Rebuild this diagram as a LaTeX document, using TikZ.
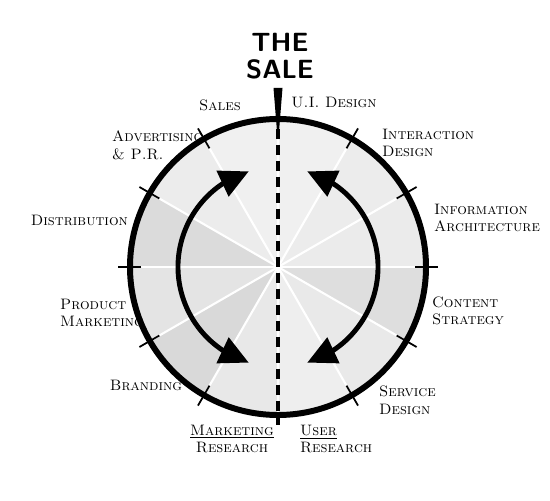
\documentclass[tikz,border=0pt]{standalone}
\usepackage{amsmath}
\usetikzlibrary{arrows.meta,bending}

\begin{document}
\begin{tikzpicture}[x=0.02cm, y=0.02cm,
    lbl/.style={font=\fontsize{8.6}{10}\selectfont\scshape, inner sep=1pt},
    rimtick/.style={line width=1pt},
    twoway/.style={line width=2.8pt,
        {Triangle[length=0.58cm,width=0.55cm]}-{Triangle[length=0.58cm,width=0.55cm]}}]%
    \useasboundingbox (-278,-233) rectangle (272,267);
    \coordinate (c) at (0,0);
    \foreach \a/\g in {90/12,120/15,150/28,180/21,210/30,240/18,
                       270/13,300/17,330/26,0/16,30/15,60/12}
        \fill[gray!\g] (c) -- (\a:146) arc[start angle=\a, delta angle=30, radius=146] -- cycle;
    \foreach \a in {0,30,...,330}
        \draw[white, line width=1.2pt] (c) -- (\a:146);
    \draw[line width=3.4pt] (c) circle[radius=148];
    \foreach \a in {0,30,60,120,150,180,210,240,300,330}
        \draw[rimtick] (\a:137) -- (\a:160);
    \node (sale) [font=\sffamily\bfseries\fontsize{15}{15.5}\selectfont, align=center] at (2,211) {THE\\SALE};
    \fill (-4.5,179) -- (4.5,179) -- (1.2,138) -- (-1.2,138) -- cycle;
    \draw[line width=1.8pt, dash pattern=on 0.2cm off 0.12cm] (0,138) -- (0,-158);
    \draw[twoway] (107:100) arc[start angle=107, end angle=253, radius=100];
    \draw[twoway] (73:100) arc[start angle=73, end angle=-73, radius=100];
    \node (sales) [lbl] at (-58,162) {Sales};
    \node (ui) [lbl] at (56,164) {U.I. Design};
    \node (adv) [lbl, anchor=west, align=left] at (-168,122) {Advertising\\\& P.R.};
    \node (dist) [lbl, anchor=east] at (-148,47) {Distribution};
    \node (prod) [lbl, anchor=west, align=left] at (-220,-46) {Product\\Marketing};
    \node (brand) [lbl] at (-132,-118) {Branding};
    \node (mres) [lbl, align=center] at (-46,-172) {\underline{Marketing}\\Research};
    \node (ures) [lbl, anchor=west, align=left] at (20,-172) {\underline{User}\\Research};
    \node (serv) [lbl, anchor=west, align=left] at (99,-133) {Service\\Design};
    \node (cont) [lbl, anchor=west, align=left] at (152,-44) {Content\\Strategy};
    \node (info) [lbl, anchor=west, align=left] at (154,49) {Information\\Architecture};
    \node (inter) [lbl, anchor=west, align=left] at (102,124) {Interaction\\Design};
\end{tikzpicture}
\end{document}
